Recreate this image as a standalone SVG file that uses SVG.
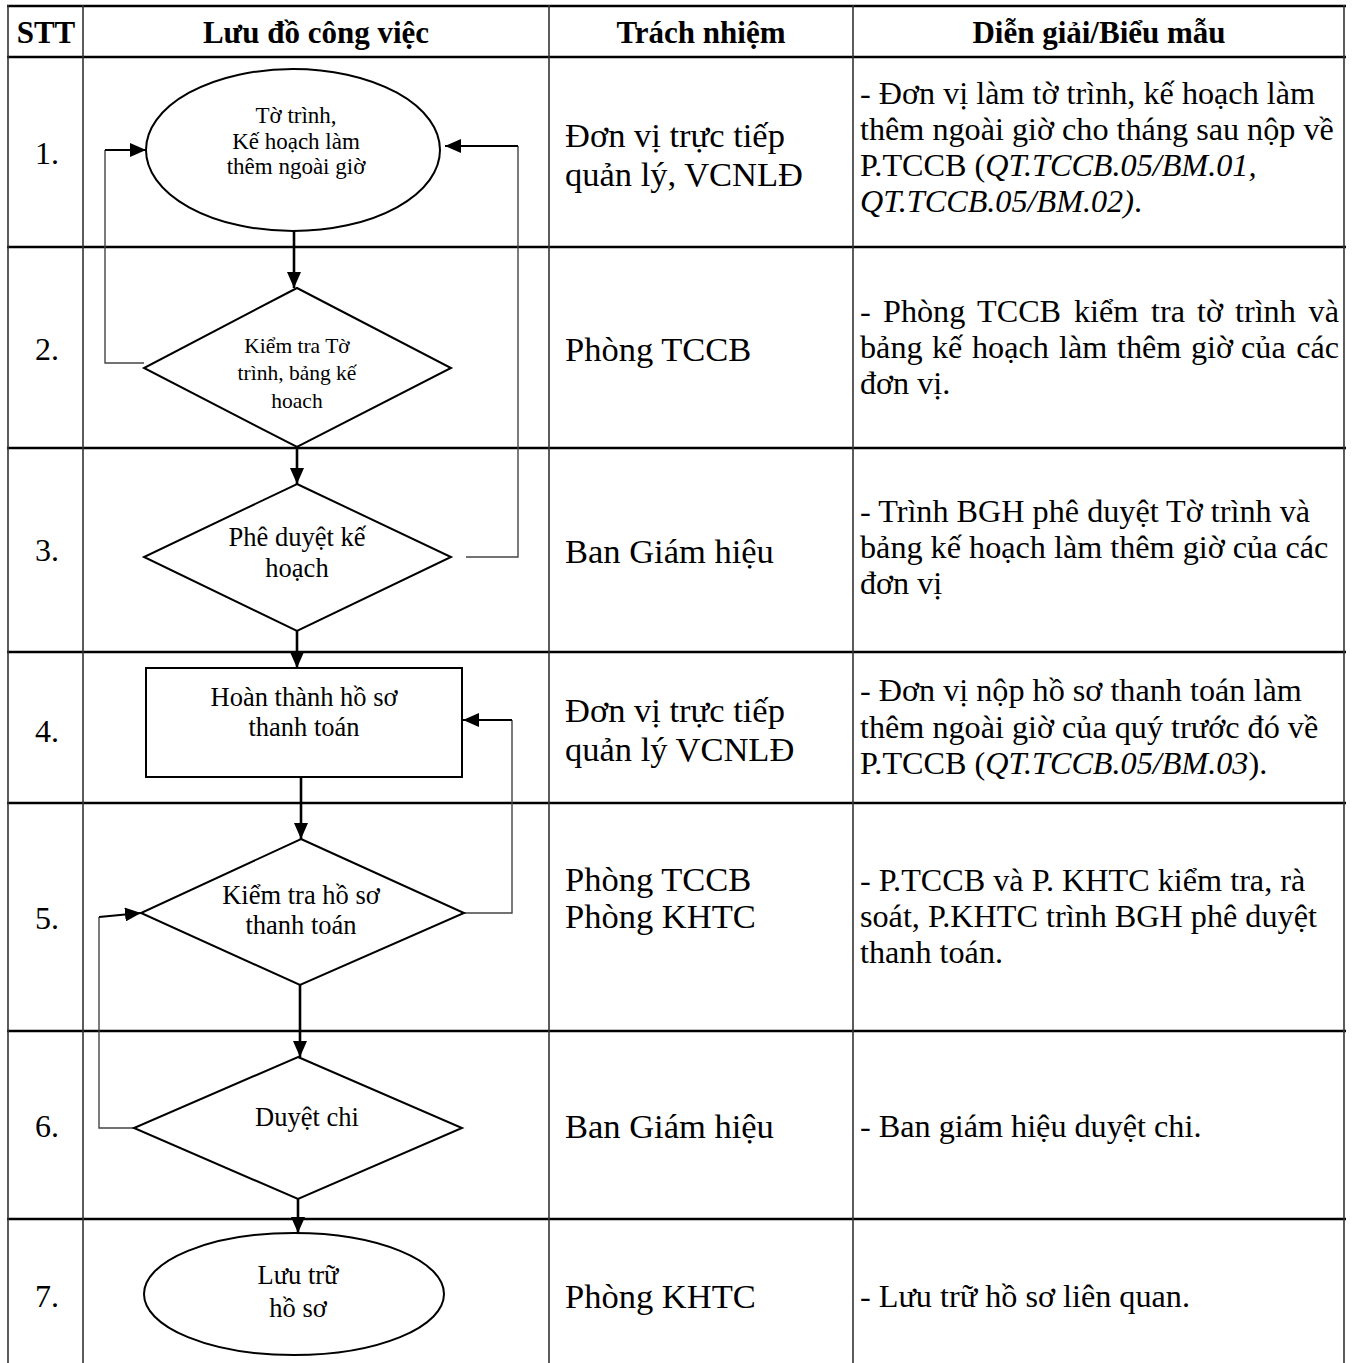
<svg xmlns="http://www.w3.org/2000/svg" width="1352" height="1363" viewBox="0 0 1352 1363">
<style>
  text { font-family: "Liberation Serif", "Times New Roman", serif; fill: #000; }
  .hdr { font-size: 31px; font-weight: bold; text-anchor: middle; }
  .num { font-size: 32px; text-anchor: middle; }
  .resp { font-size: 34.5px; }
  .desc { font-size: 32.2px; }
  .it { font-style: italic; }
  .lbl { font-size: 26.5px; text-anchor: middle; }
  .n1 { font-size: 23px; }
  .n2 { font-size: 21.5px; }
  .hline { stroke: #000; stroke-width: 2.6; }
  .vline { stroke: #333; stroke-width: 1.6; }
  .shape { fill: #fff; stroke: #000; stroke-width: 2; }
  .flow { fill: none; stroke: #000; stroke-width: 2.6; }
  .loop { fill: none; stroke: #444; stroke-width: 1.4; }
  .loopend { fill: none; stroke: #000; stroke-width: 2.2; }
</style>
<defs>
  <marker id="arr" markerUnits="userSpaceOnUse" markerWidth="16" markerHeight="14" viewBox="0 0 16 14" refX="16" refY="7" orient="auto">
    <path d="M0,0 L16,7 L0,14 z" fill="#000"/>
  </marker>
</defs>
<rect width="1352" height="1363" fill="#fff"/>

<g id="table">
  <line class="hline" x1="7" y1="6" x2="1346" y2="6" stroke-width="3"/>
  <line class="hline" x1="7" y1="57" x2="1346" y2="57"/>
  <line class="hline" x1="7" y1="247" x2="1346" y2="247"/>
  <line class="hline" x1="7" y1="448" x2="1346" y2="448"/>
  <line class="hline" x1="7" y1="652" x2="1346" y2="652"/>
  <line class="hline" x1="7" y1="803" x2="1346" y2="803"/>
  <line class="hline" x1="7" y1="1031" x2="1346" y2="1031"/>
  <line class="hline" x1="7" y1="1219" x2="1346" y2="1219"/>
  <line class="vline" x1="8" y1="5" x2="8" y2="1363"/>
  <line class="vline" x1="83" y1="5" x2="83" y2="1363"/>
  <line class="vline" x1="549" y1="5" x2="549" y2="1363"/>
  <line class="vline" x1="853" y1="5" x2="853" y2="1363"/>
  <line class="vline" x1="1344" y1="5" x2="1344" y2="1363"/>
</g>

<g id="header">
  <text class="hdr" x="46" y="43">STT</text>
  <text class="hdr" x="316" y="43">Lưu đồ công việc</text>
  <text class="hdr" x="701" y="43">Trách nhiệm</text>
  <text class="hdr" x="1099" y="43">Diễn giải/Biểu mẫu</text>
</g>

<g id="stt">
  <text class="num" x="47" y="164">1.</text>
  <text class="num" x="47" y="360">2.</text>
  <text class="num" x="47" y="561">3.</text>
  <text class="num" x="47" y="742">4.</text>
  <text class="num" x="47" y="929">5.</text>
  <text class="num" x="47" y="1137">6.</text>
  <text class="num" x="47" y="1307">7.</text>
</g>

<g id="responsibility">
  <text class="resp" x="565" y="147">Đơn vị trực tiếp</text>
  <text class="resp" x="565" y="186">quản lý, VCNLĐ</text>
  <text class="resp" x="565" y="361">Phòng TCCB</text>
  <text class="resp" x="565" y="563">Ban Giám hiệu</text>
  <text class="resp" x="565" y="722">Đơn vị trực tiếp</text>
  <text class="resp" x="565" y="761">quản lý VCNLĐ</text>
  <text class="resp" x="565" y="891">Phòng TCCB</text>
  <text class="resp" x="565" y="928">Phòng KHTC</text>
  <text class="resp" x="565" y="1138">Ban Giám hiệu</text>
  <text class="resp" x="565" y="1308">Phòng KHTC</text>
</g>

<g id="description">
  <text class="desc" x="860" y="104">- Đơn vị làm tờ trình, kế hoạch làm</text>
  <text class="desc" x="860" y="140">thêm ngoài giờ cho tháng sau nộp về</text>
  <text class="desc" x="860" y="176">P.TCCB (<tspan class="it">QT.TCCB.05/BM.01,</tspan></text>
  <text class="desc" x="860" y="212"><tspan class="it">QT.TCCB.05/BM.02)</tspan>.</text>

  <text class="desc" y="322"><tspan x="860">-</tspan><tspan x="883">Phòng</tspan><tspan x="977">TCCB</tspan><tspan x="1074">kiểm</tspan><tspan x="1151">tra</tspan><tspan x="1197">tờ</tspan><tspan x="1235">trình</tspan><tspan x="1339" text-anchor="end">và</tspan></text>
  <text class="desc" y="358"><tspan x="860">bảng</tspan><tspan x="932">kế</tspan><tspan x="972">hoạch</tspan><tspan x="1059">làm</tspan><tspan x="1117">thêm</tspan><tspan x="1191">giờ</tspan><tspan x="1241">của</tspan><tspan x="1339" text-anchor="end">các</tspan></text>
  <text class="desc" x="860" y="394">đơn vị.</text>

  <text class="desc" x="860" y="522">- Trình BGH phê duyệt Tờ trình và</text>
  <text class="desc" x="860" y="558">bảng kế hoạch làm thêm giờ của các</text>
  <text class="desc" x="860" y="594">đơn vị</text>

  <text class="desc" x="860" y="701">- Đơn vị nộp hồ sơ thanh toán làm</text>
  <text class="desc" x="860" y="738">thêm ngoài giờ của quý trước đó về</text>
  <text class="desc" x="860" y="774">P.TCCB (<tspan class="it">QT.TCCB.05/BM.03</tspan>).</text>

  <text class="desc" x="860" y="891">- P.TCCB và P. KHTC kiểm tra, rà</text>
  <text class="desc" x="860" y="927">soát, P.KHTC trình BGH phê duyệt</text>
  <text class="desc" x="860" y="963">thanh toán.</text>

  <text class="desc" x="860" y="1137">- Ban giám hiệu duyệt chi.</text>
  <text class="desc" x="860" y="1307">- Lưu trữ hồ sơ liên quan.</text>
</g>

<g id="connectors">
  <path class="flow" d="M294,231 V288" marker-end="url(#arr)"/>
  <path class="flow" d="M297,447 V484" marker-end="url(#arr)"/>
  <path class="flow" d="M297,631 V668" marker-end="url(#arr)"/>
  <path class="flow" d="M301,777 V839" marker-end="url(#arr)"/>
  <path class="flow" d="M300,985 V1057" marker-end="url(#arr)"/>
  <path class="flow" d="M298,1199 V1233" marker-end="url(#arr)"/>

  <path class="loop" d="M144,363 H105 V150"/>
  <path class="loopend" d="M105,150 H146" marker-end="url(#arr)"/>

  <path class="loop" d="M466,557 H518 V146"/>
  <path class="loopend" d="M518,146 H445" marker-end="url(#arr)"/>

  <path class="loop" d="M464,913 H512 V720"/>
  <path class="loopend" d="M512,720 H463" marker-end="url(#arr)"/>

  <path class="loop" d="M134,1128 H99 V917"/>
  <path class="loopend" d="M99,917 L141,913" marker-end="url(#arr)"/>
</g>

<g id="node1">
  <ellipse class="shape" cx="293" cy="150" rx="147" ry="81"/>
  <text class="lbl n1" x="296" y="123">Tờ trình,</text>
  <text class="lbl n1" x="296" y="148.5">Kế hoạch làm</text>
  <text class="lbl n1" x="296" y="174">thêm ngoài giờ</text>
</g>

<g id="node2">
  <polygon class="shape" points="297,288 451,368 297,447 144,368"/>
  <text class="lbl n2" x="297" y="353">Kiểm tra Tờ</text>
  <text class="lbl n2" x="297" y="380">trình, bảng kế</text>
  <text class="lbl n2" x="297" y="408">hoach</text>
</g>

<g id="node3">
  <polygon class="shape" points="297,484 451,557 297,631 144,557"/>
  <text class="lbl" x="297" y="546">Phê duyệt kế</text>
  <text class="lbl" x="297" y="577">hoạch</text>
</g>

<g id="node4">
  <rect class="shape" x="146" y="668" width="316" height="109" stroke-width="3"/>
  <text class="lbl" x="304" y="706">Hoàn thành hồ sơ</text>
  <text class="lbl" x="304" y="736">thanh toán</text>
</g>

<g id="node5">
  <polygon class="shape" points="301,839 464,913 300,985 141,913"/>
  <text class="lbl" x="301" y="904">Kiểm tra hồ sơ</text>
  <text class="lbl" x="301" y="934">thanh toán</text>
</g>

<g id="node6">
  <polygon class="shape" points="298,1057 462,1128 298,1199 134,1128" stroke-width="1.6"/>
  <text class="lbl" x="307" y="1126">Duyệt chi</text>
</g>

<g id="node7">
  <ellipse class="shape" cx="294" cy="1294" rx="150" ry="61"/>
  <text class="lbl" x="298" y="1284">Lưu trữ</text>
  <text class="lbl" x="298" y="1317">hồ sơ</text>
</g>
</svg>
